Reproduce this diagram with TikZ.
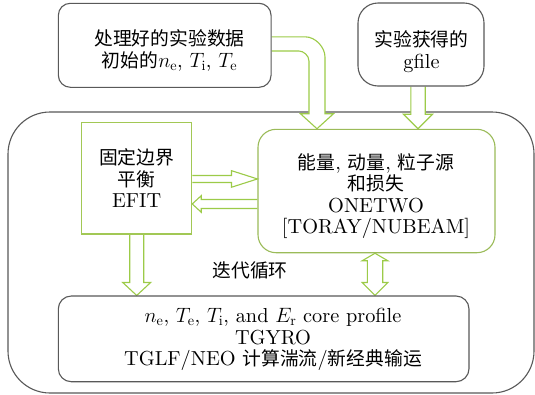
\documentclass[tikz,border=0pt]{standalone}
\usepackage{fontspec}
\setmainfont{lmroman10-regular.otf}[ItalicFont=lmroman10-italic.otf, BoldFont=lmroman10-bold.otf]
\usetikzlibrary{calc}
\newfontfamily\cjkfont{Noto Sans CJK SC}
\newcommand\zh[1]{{\cjkfont\fontsize{18.8}{21.5}\selectfont #1}}
\definecolor{boxgray}{HTML}{595959}
\definecolor{boxgreen}{HTML}{9BBB59}
\definecolor{efitgreen}{HTML}{A2C855}
\definecolor{arrowgreen}{HTML}{9CCB48}
\pgfdeclarelayer{bgzero}
\pgfdeclarelayer{bgone}
\pgfsetlayers{bgzero,bgone,main}
\tikzset{
  every node/.style={font=\fontsize{20.3}{21.5}\selectfont},
  graybox/.style={draw=boxgray, line width=1.1pt, align=center, inner sep=0pt},
  greenbox/.style={draw=boxgreen, line width=1.1pt, align=center, inner sep=0pt},
  txt/.style={align=center, inner sep=0pt},
  harrow/.style={draw=arrowgreen, fill=white, line width=1.1pt, line join=miter},
}
\newcommand\hdown[5]{%
  \draw[harrow] let \p1=(#1), \p2=(#2) in
    (\x1-#3,\y1) -- (\x1-#3,\y2+#5) -- (\x1-#4,\y2+#5) -- (\x1,\y2)
    -- (\x1+#4,\y2+#5) -- (\x1+#3,\y2+#5) -- (\x1+#3,\y1);}
\begin{document}
\begin{tikzpicture}[x=1pt,y=-1pt]
\useasboundingbox (0,0) rectangle (535,394);

% boxes
\node[graybox, minimum width=212.7pt, minimum height=84pt, rounded corners=12pt] (data) at (164.7,45.3) {};
\node[txt] (datatext) at (169.5,50.5)
  {\zh{处理好的实验数据}\\\zh{初始的}$n_\mathrm{e}$, $T_\mathrm{i}$, $T_\mathrm{e}$};
\node[graybox, minimum width=126pt, minimum height=83pt, rounded corners=20pt] (gfile) at (421,44.5) {};
\node[txt] (gfiletext) at (421.5,51.5) {\zh{实验获得的}\\gfile};
\node[greenbox, draw=efitgreen, minimum width=110pt, minimum height=111.3pt] (efit) at (136.7,178.35)
  {\zh{固定边界}\\\zh{平衡}\\EFIT};
\node[greenbox, minimum width=237pt, minimum height=123.4pt, rounded corners=18pt] (onetwo) at (376.5,191) {};
\node[txt] (onetwotext) at (376,196)
  {\zh{能量}, \zh{动量}, \zh{粒子源}\\\zh{和损失}\\ONETWO\\{[}TORAY/NUBEAM{]}};
\node[graybox, minimum width=410.7pt, minimum height=85.7pt, rounded corners=13pt] (tgyro) at (263.65,338.85) {};
\node[txt] (tgyrotext) at (273,339.5)
  {$n_\mathrm{e}$, $T_\mathrm{e}$, $T_\mathrm{i}$, and $E_\mathrm{r}$ core profile\\TGYRO\\TGLF/NEO \zh{计算湍流}/\zh{新经典输运}};
\node[txt] (loop) at (250,270) {\zh{迭代循环}};

\begin{pgfonlayer}{bgzero}
\fill[white] (0,0) rectangle (535,394);
\node[graybox, minimum width=526pt, minimum height=281pt, rounded corners=42pt] (outer) at (271,252.5) {};
\end{pgfonlayer}

\begin{pgfonlayer}{bgone}
% bent arrow: data -> onetwo
\draw[harrow] let \p1=(data.east), \p2=($(onetwo.north west)!0.25!(onetwo.north east)$) in
  (\x1,\y1+8.5pt) -- (\x2-12pt,\y1+8.5pt)
  .. controls (\x2-1pt,\y1+8.5pt) and (\x2+8pt,\y1-2.5pt) .. (\x2+8pt,\y1-11.5pt)
  -- (\x2+8pt,\y2+15pt) -- (\x2+16.5pt,\y2+15pt) -- (\x2,\y2) -- (\x2-16.5pt,\y2+15pt)
  -- (\x2-8pt,\y2+15pt) -- (\x2-8pt,\y1-15.7pt)
  .. controls (\x2-8pt,\y1-10.2pt) and (\x2-13.5pt,\y1-5.7pt) .. (\x2-18pt,\y1-5.7pt)
  -- (\x1,\y1-5.7pt);
% gfile -> onetwo
\hdown{$(gfile.south)+(-3pt,0)$}{onetwo.north}{7.2pt}{14.5pt}{14.5pt}
% efit -> tgyro
\hdown{efit.south}{tgyro.north}{7pt}{14pt}{13pt}
% onetwo <-> tgyro
\draw[harrow] let \p1=($(onetwo.south)+(-1.5pt,0)$), \p2=(tgyro.north) in
  (\x1-7.7pt,\y1-7.5pt) -- (\x1-12.8pt,\y1-7.5pt) -- (\x1,\y1) -- (\x1+12.8pt,\y1-7.5pt)
  -- (\x1+7.7pt,\y1-7.5pt) -- (\x1+7.7pt,\y2+13pt) -- (\x1+12.8pt,\y2+13pt) -- (\x1,\y2)
  -- (\x1-12.8pt,\y2+13pt) -- (\x1-7.7pt,\y2+13pt) -- cycle;
% efit -> onetwo
\draw[harrow] let \p1=($(efit.east)+(0,-0.6pt)$), \p2=(onetwo.west) in
  (\x1,\y1+3.5pt) -- (\x2-26pt,\y1+3.5pt) -- (\x2-26pt,\y1+8.3pt) -- (\x2,\y1)
  -- (\x2-26pt,\y1-8.3pt) -- (\x2-26pt,\y1-3.5pt) -- (\x1,\y1-3.5pt);
% onetwo -> efit
\draw[harrow] let \p1=($(efit.east)+(0,-25.6pt)$), \p2=(onetwo.west) in
  (\x2,\y1+4.5pt) -- (\x1+9pt,\y1+4.5pt) -- (\x1+9pt,\y1+8.3pt) -- (\x1,\y1)
  -- (\x1+9pt,\y1-8.3pt) -- (\x1+9pt,\y1-4.5pt) -- (\x2,\y1-4.5pt);
\end{pgfonlayer}
\end{tikzpicture}
\end{document}
